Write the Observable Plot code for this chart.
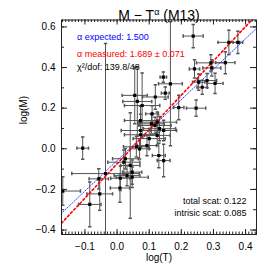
<!DOCTYPE html>
<html><head><meta charset="utf-8">
<style>body{margin:0;background:#fff} svg{display:block}</style>
<script src="https://cdn.jsdelivr.net/npm/d3@7"></script>
<script src="https://cdn.jsdelivr.net/npm/@observablehq/plot@0.6"></script>
</head><body><div id="chart"></div>
<script>
// ---- data ----
const logT = [0.237,0.348,0.376,0.292,0.337,0.241,0.295,0.254,0.280,0.305,0.265,0.144,0.166,0.150,0.192,0.246,0.107,0.132,0.055,0.063,0.078,0.119,0.109,0.073,0.125,0.073,0.145,0.073,0.125,0.093,0.130,0.145,0.026,0.021,0.041,0.047,0.031,0.047,0.010,-0.036,-0.057,-0.107,-0.169,-0.085,-0.054,0.009,0.118,0.100,0.060,0.070];
const logM = [0.555,0.524,0.524,0.423,0.424,0.393,0.398,0.328,0.336,0.322,0.303,0.353,0.320,0.274,0.203,0.200,0.123,0.099,0.263,0.233,0.213,0.255,0.172,0.139,0.131,0.090,0.090,0.069,0.066,0.016,-0.033,-0.058,-0.049,-0.066,-0.082,-0.115,-0.132,-0.140,-0.145,-0.122,-0.148,0.003,-0.208,-0.274,-0.222,-0.193,0.115,0.050,0.010,0.000];
const errT = [0.031,0.034,0.015,0.045,0.030,0.016,0.028,0.019,0.030,0.025,0.016,0.010,0.037,0.012,0.016,0.030,0.040,0.050,0.039,0.045,0.055,0.040,0.020,0.050,0.060,0.060,0.040,0.050,0.040,0.030,0.020,0.020,0.040,0.050,0.030,0.030,0.040,0.050,0.030,0.105,0.030,0.018,0.055,0.035,0.040,0.030,0.050,0.050,0.040,0.030];
const errM = [0.057,0.060,0.055,0.040,0.054,0.045,0.040,0.040,0.035,0.050,0.035,0.025,0.305,0.030,0.060,0.040,0.050,0.060,0.140,0.170,0.160,0.060,0.040,0.070,0.050,0.080,0.050,0.060,0.050,0.050,0.060,0.080,0.050,0.060,0.260,0.060,0.050,0.050,0.060,0.640,0.050,0.055,0.070,0.110,0.080,0.070,0.040,0.050,0.050,0.050];

const fitNames = ["expected", "measured"];
const fitSlopes = [1.500, 1.689];
const fitIntercepts = [-0.058, -0.074];

const xTicks = [-0.1, 0.0, 0.1, 0.2, 0.3, 0.4];
const yTicks = [-0.4, -0.2, 0.0, 0.2, 0.4, 0.6];

const titleText = "M − Tα (M13)";
const legendLines = ["α expected: 1.500", "α measured: 1.689 ± 0.071", "χ²/dof: 139.8/48"];
const scatLines = ["total scat: 0.122", "intrisic scat: 0.085"];

// ---- layout ----
const W = 274, H = 274;
const mL = 61, mR = 18, mT = 19.5, mB = 40;
const innerW = W - mL - mR, innerH = H - mT - mB;
const xDomain = [-0.173, 0.434];
const yDomain = [-0.422, 0.634];

const pts = logT.map((t, i) => ({t, m: logM[i], et: errT[i], em: errM[i]}));
const fits = fitNames.flatMap((f, i) => xDomain.map(x => ({fit: f, x, y: fitSlopes[i] * x + fitIntercepts[i]})));

const xMinor = d3.range(-17, 44).map(i => i / 100);
const yMinor = d3.range(-4, 7).map(i => i / 10);

const vcap = {draw(ctx, size) { const r = Math.sqrt(size / Math.PI); ctx.moveTo(0, -r); ctx.lineTo(0, r); }};
const hcap = {draw(ctx, size) { const r = Math.sqrt(size / Math.PI); ctx.moveTo(-r, 0); ctx.lineTo(r, 0); }};
const barColor = "#555";

const chart = Plot.plot({
  width: W, height: H,
  marginLeft: mL, marginRight: mR, marginTop: mT, marginBottom: mB,
  style: {fontFamily: "'Liberation Sans', Arial, sans-serif", fontSize: "10px", background: "#fff", overflow: "visible"},
  x: {domain: xDomain},
  y: {domain: yDomain},
  marks: [
    // error bars
    Plot.ruleY(pts, {y: "m", x1: d => d.t - d.et, x2: d => d.t + d.et, stroke: barColor, strokeWidth: 1, clip: true}),
    Plot.ruleX(pts, {x: "t", y1: d => d.m - d.em, y2: d => d.m + d.em, stroke: barColor, strokeWidth: 1, clip: true}),
    Plot.dot(pts, {x: d => d.t - d.et, y: "m", symbol: vcap, r: 1.7, stroke: barColor, clip: true}),
    Plot.dot(pts, {x: d => d.t + d.et, y: "m", symbol: vcap, r: 1.7, stroke: barColor, clip: true}),
    Plot.dot(pts, {x: "t", y: d => d.m - d.em, symbol: hcap, r: 1.7, stroke: barColor, clip: true}),
    Plot.dot(pts, {x: "t", y: d => d.m + d.em, symbol: hcap, r: 1.7, stroke: barColor, clip: true}),
    // fit lines
    Plot.line(fits.filter(d => d.fit === "expected"), {x: "x", y: "y", stroke: "#3344ff", strokeWidth: 1, strokeDasharray: "1,1.5", clip: true}),
    Plot.line(fits.filter(d => d.fit === "measured"), {x: "x", y: "y", stroke: "#ff0000", strokeWidth: 1.6, strokeDasharray: "2,2.5", clip: true}),
    // points
    Plot.dot(pts, {x: "t", y: "m", symbol: "square", r: 1.8, fill: "black", clip: true}),
    // frame and inward ticks
    Plot.frame({stroke: "#222"}),
    Plot.tickX(xMinor, {x: d => d, insetTop: innerH - 2.5, stroke: "#222"}),
    Plot.tickX(xMinor, {x: d => d, insetBottom: innerH - 2.5, stroke: "#222"}),
    Plot.tickX(xTicks, {x: d => d, insetTop: innerH - 5, stroke: "#222"}),
    Plot.tickX(xTicks, {x: d => d, insetBottom: innerH - 5, stroke: "#222"}),
    Plot.tickY(yMinor, {y: d => d, insetRight: innerW - 3, stroke: "#222"}),
    Plot.tickY(yMinor, {y: d => d, insetLeft: innerW - 3, stroke: "#222"}),
    Plot.tickY(yTicks, {y: d => d, insetRight: innerW - 6, stroke: "#222"}),
    Plot.tickY(yTicks, {y: d => d, insetLeft: innerW - 6, stroke: "#222"}),
    // tick labels
    Plot.axisX({ticks: xTicks, tickSize: 0, tickPadding: 8, tickFormat: d3.format(".1f"), label: null, fontSize: 10}),
    Plot.axisY({ticks: yTicks, tickSize: 0, tickPadding: 6, tickFormat: d3.format(".1f"), label: null, fontSize: 10}),
    // axis labels and title
    Plot.text(["log(T)"], {frameAnchor: "bottom", dy: 26, fontSize: 10}),
    Plot.text(["log(M)"], {frameAnchor: "left", dx: -38, dy: -3, rotate: -90, fontSize: 10}),
    Plot.text([titleText], {frameAnchor: "top", dy: -9.5, fontSize: 14}),
    // annotations
    Plot.text([legendLines[0]], {frameAnchor: "top-left", dx: 15.5, dy: 13.5, textAnchor: "start", fill: "#0000ff", fontSize: 9}),
    Plot.text([legendLines[1]], {frameAnchor: "top-left", dx: 15.5, dy: 30.5, textAnchor: "start", fill: "#ff0000", fontSize: 9}),
    Plot.text([legendLines[2]], {frameAnchor: "top-left", dx: 15.5, dy: 44, textAnchor: "start", fill: "black", fontSize: 9}),
    Plot.text([scatLines[0]], {frameAnchor: "bottom-right", dx: -10, dy: -31, textAnchor: "end", fill: "black", fontSize: 9}),
    Plot.text([scatLines[1]], {frameAnchor: "bottom-right", dx: -10, dy: -18.5, textAnchor: "end", fill: "black", fontSize: 9})
  ]
});
document.getElementById("chart").append(chart);

// superscript alpha in the title
d3.select(chart).selectAll("text").filter(function() { return this.textContent === titleText; })
  .each(function() {
    const t = d3.select(this);
    t.text(null);
    t.append("tspan").text("M − T");
    t.append("tspan").attr("dy", "-5px").attr("font-size", "9px").text("α");
    t.append("tspan").attr("dy", "5px").text(" (M13)");
  });
</script>
</body></html>
